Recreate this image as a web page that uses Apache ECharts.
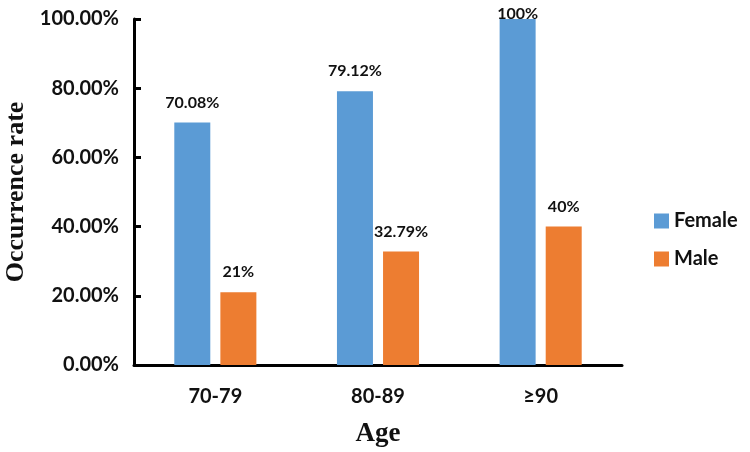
<!DOCTYPE html>
<html><head><meta charset="utf-8">
<script src="https://cdn.jsdelivr.net/npm/echarts@6/dist/echarts.min.js"></script>
<style>html,body{margin:0;padding:0;background:#fff}#c{width:750px;height:452px}</style>
</head><body><div id="c"></div>
<script>
var categories = ['70-79', '80-89', '≥90'];
var femaleValues = [70.08, 79.12, 100];
var maleValues = [21, 32.79, 40];
var yTicks = [0, 20, 40, 60, 80, 100];

var labelFont = {fontFamily: 'Lato', fontWeight: 'bold', fontSize: 16, color: '#111'};
function mk(vals) {
  return vals.map(function (v) {
    var d = {value: v};
    if (v >= 100) d.label = {distance: -3};
    return d;
  });
}
var chart = echarts.init(document.getElementById('c'));
chart.setOption({
  animation: false,
  grid: {left: 134, top: 19, right: 128, bottom: 87, containLabel: false, outerBoundsMode: 'none'},
  legend: {
    orient: 'vertical', left: 649, top: 206, itemWidth: 15, itemHeight: 15, itemGap: 18,
    icon: 'rect',
    textStyle: {fontFamily: 'Lato', fontWeight: 'bold', fontSize: 20, color: '#111'},
    data: ['Female', 'Male']
  },
  xAxis: {
    type: 'category', data: categories,
    name: 'Age', nameLocation: 'middle', nameGap: 56,
    nameTextStyle: {fontFamily: 'Liberation Serif', fontWeight: 'bold', fontSize: 27, color: '#111'},
    axisLine: {lineStyle: {color: '#000', width: 3}},
    axisTick: {show: false},
    axisLabel: {margin: 22, fontFamily: 'Lato', fontWeight: 'bold', fontSize: 20, color: '#111'}
  },
  yAxis: {
    type: 'value', min: 0, max: 100, interval: 20,
    name: 'Occurrence rate', nameLocation: 'middle', nameGap: 104,
    nameTextStyle: {fontFamily: 'Liberation Serif', fontWeight: 'bold', fontSize: 26, color: '#111'},
    axisLine: {show: true, lineStyle: {color: '#000', width: 3}},
    axisTick: {show: true, inside: true, length: 7, lineStyle: {color: '#000', width: 3}},
    splitLine: {show: false},
    axisLabel: {
      margin: 15, fontFamily: 'Lato', fontWeight: 'bold', fontSize: 20, color: '#111',
      formatter: function (v) { return yTicks.indexOf(v) >= 0 ? v.toFixed(2) + '%' : ''; }
    }
  },
  series: [
    {name: 'Female', type: 'bar', data: mk(femaleValues), barWidth: 36, barGap: '28%',
     itemStyle: {color: '#5B9BD5'},
     label: Object.assign({show: true, position: 'top', distance: 12, formatter: '{c}%'}, labelFont)},
    {name: 'Male', type: 'bar', data: mk(maleValues), barWidth: 36, barGap: '28%',
     itemStyle: {color: '#ED7D31'},
     label: Object.assign({show: true, position: 'top', distance: 12, formatter: '{c}%'}, labelFont)}
  ]
});
</script></body></html>
